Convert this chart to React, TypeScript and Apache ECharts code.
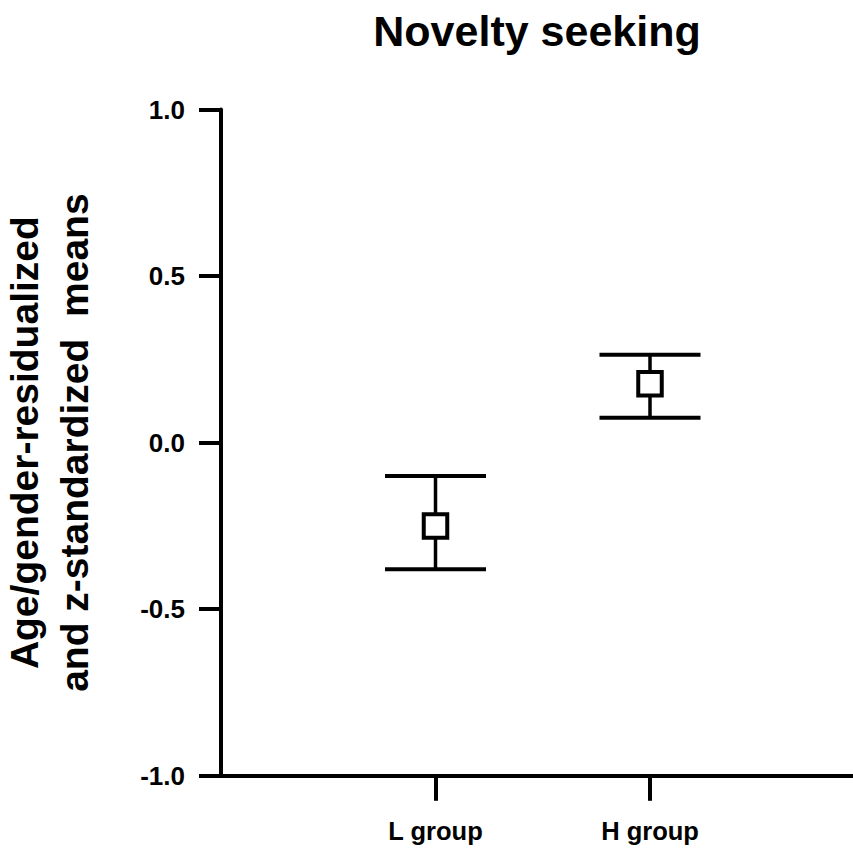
import React, { useEffect, useRef } from "react";
import * as echarts from "echarts";

const chartTitle = "Novelty seeking";
const yNameLines = ["Age/gender-residualized", "and z-standardized  means"];
const categories = ["L group", "H group"];
const xPositions = [1, 2];
const means = [-0.25, 0.177];
const lowers = [-0.38, 0.075];
const uppers = [-0.1, 0.264];
const yTicks = [-1.0, -0.5, 0.0, 0.5, 1.0];

const SANS = "'Liberation Sans', Arial, Helvetica, sans-serif";

export default function App() {
  const ref = useRef<HTMLDivElement>(null);
  useEffect(() => {
    if (!ref.current) return;
    const chart = echarts.init(ref.current, undefined, { renderer: "svg" });
    const data = xPositions.map((x, i) => [x, means[i], lowers[i], uppers[i]]);
    chart.setOption({
      animation: false,
      backgroundColor: "#ffffff",
      graphic: [
        {
          type: "text",
          x: 537,
          y: 31,
          style: {
            text: chartTitle,
            fontFamily: SANS,
            fontSize: 43,
            fontWeight: "bold",
            fill: "#000",
            align: "center",
            verticalAlign: "middle",
          },
        },
      ],
      grid: {
        left: 221,
        top: 109.5,
        width: 643.5,
        bottom: 73.2,
        containLabel: false,
        outerBoundsMode: "none",
      },
      xAxis: {
        type: "value",
        min: 0,
        max: 3,
        splitLine: { show: false },
        axisLine: { show: true, onZero: false, lineStyle: { color: "#000", width: 4 } },
        axisTick: { show: true, length: 25, customValues: xPositions, lineStyle: { color: "#000", width: 4 } },
        axisLabel: {
          customValues: xPositions,
          formatter: (v: number) => categories[xPositions.indexOf(v)] ?? "",
          margin: 42,
          color: "#000",
          fontFamily: SANS,
          fontWeight: "bold",
          fontSize: 25.5,
        },
      },
      yAxis: {
        type: "value",
        min: -1,
        max: 1,
        interval: 0.5,
        offset: 2,
        splitLine: { show: false },
        axisLine: { show: true, lineStyle: { color: "#000", width: 4 } },
        axisTick: { show: true, length: 22, lineStyle: { color: "#000", width: 4 } },
        axisLabel: {
          formatter: (v: number) => v.toFixed(1),
          customValues: yTicks,
          margin: 34,
          color: "#000",
          fontFamily: SANS,
          fontWeight: "bold",
          fontSize: 26,
        },
        name: yNameLines.join("\n"),
        nameLocation: "middle",
        nameGap: 120,
        nameRotate: 90,
        nameTextStyle: {
          color: "#000",
          fontFamily: SANS,
          fontWeight: "bold",
          fontSize: 39,
          lineHeight: 50,
        },
      },
      series: [
        {
          type: "custom",
          data,
          encode: { x: 0, y: 1 },
          renderItem: (params: any, api: any) => {
            const x = api.value(0);
            const pm = api.coord([x, api.value(1)]);
            const pl = api.coord([x, api.value(2)]);
            const ph = api.coord([x, api.value(3)]);
            const capHalf = 50.5;
            const box = 23.5;
            return {
              type: "group",
              children: [
                { type: "line", shape: { x1: ph[0], y1: ph[1], x2: pl[0], y2: pl[1] }, style: { stroke: "#000", lineWidth: 3.5 } },
                { type: "line", shape: { x1: ph[0] - capHalf, y1: ph[1], x2: ph[0] + capHalf, y2: ph[1] }, style: { stroke: "#000", lineWidth: 4 } },
                { type: "line", shape: { x1: pl[0] - capHalf, y1: pl[1], x2: pl[0] + capHalf, y2: pl[1] }, style: { stroke: "#000", lineWidth: 4 } },
                { type: "rect", shape: { x: pm[0] - box / 2, y: pm[1] - box / 2, width: box, height: box }, style: { fill: "#fff", stroke: "#000", lineWidth: 4 } },
              ],
            };
          },
        },
      ],
    });
    return () => chart.dispose();
  }, []);
  return <div ref={ref} style={{ position: "absolute", left: 0, top: 0, width: 853, height: 849 }} />;
}
